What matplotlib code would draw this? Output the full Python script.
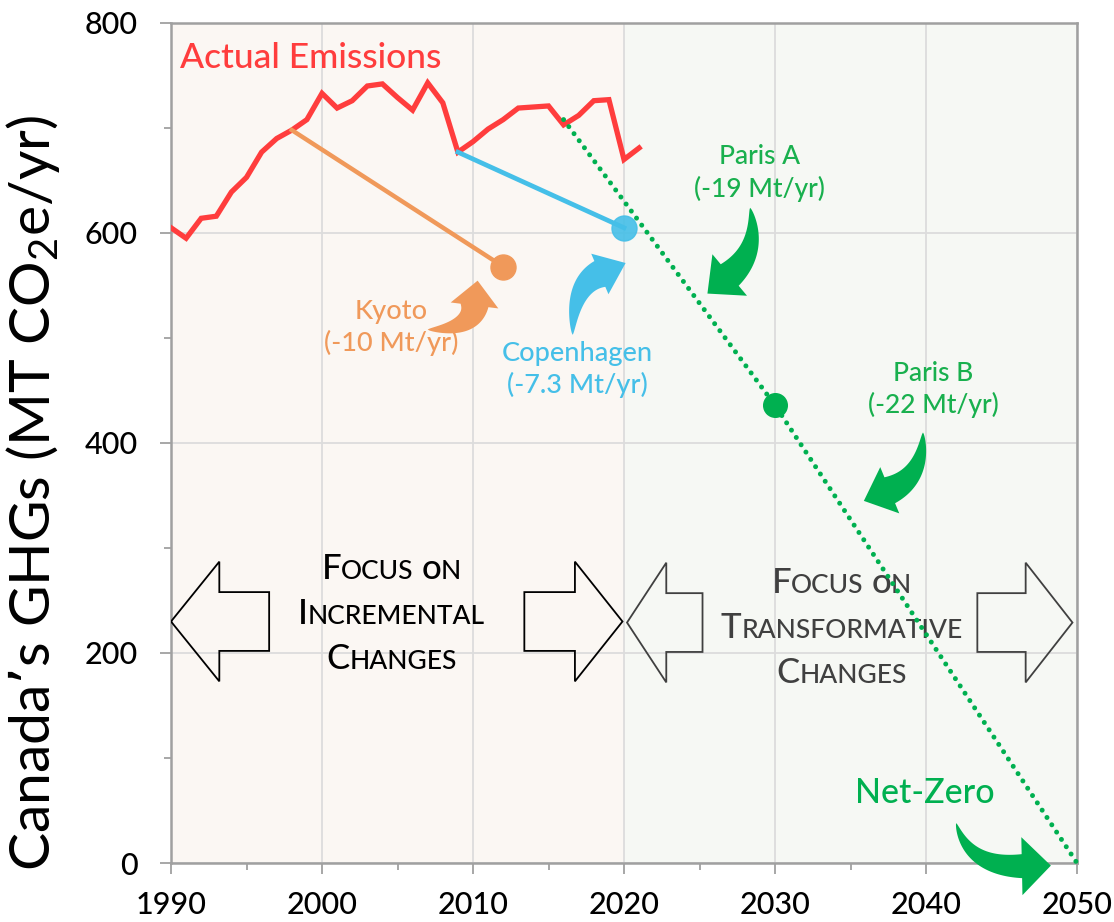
import numpy as np
import matplotlib.pyplot as plt
from matplotlib.patches import Polygon
from matplotlib.transforms import IdentityTransform

plt.rcParams['font.family'] = ['Lato', 'DejaVu Sans']
plt.rcParams['font.weight'] = 'medium'
plt.rcParams['mathtext.default'] = 'regular'

# Canada's actual GHG emissions (Mt CO2e / yr)
years = list(range(1990, 2022))
emissions = [605, 595, 614, 616, 639, 653, 677, 690, 698, 708,
             733, 719, 726, 740, 742, 729, 717, 743, 724, 677,
             687, 699, 708, 719, 720, 721, 703, 712, 726, 727,
             670, 681]

# target pathways
kyoto_x = [1998, 2012]
kyoto_y = [698, 568]
copen_x = [2009, 2020]
copen_y = [677, 605]
paris_x = [2016, 2030, 2050]
paris_y = [708, 436, 0]

RED = '#ff3d3d'
ORANGE = '#f0995a'
BLUE = '#45bfe8'
GREEN = '#00b050'
GREY_TXT = '#404040'


def curved_arrow(ax, start, ctrl, end, tail_w, head_w, head_len, color):
    # filled tapered arrow along a quadratic bezier, sizes in pixels
    S, C, E = (ax.transData.transform(p) for p in (start, ctrl, end))
    t = np.linspace(0, 1, 60)[:, None]
    P = (1 - t)**2 * S + 2 * (1 - t) * t * C + t**2 * E
    D = 2 * (1 - t) * (C - S) + 2 * t * (E - C)
    D = D / np.linalg.norm(D, axis=1)[:, None]
    N = np.column_stack([-D[:, 1], D[:, 0]])
    w = tail_w * t[:, 0]**0.7
    left = P + N * w[:, None]
    right = P - N * w[:, None]
    d, n = D[-1], N[-1]
    head = [E + n * head_w, E + d * head_len, E - n * head_w]
    pts = np.vstack([left, head, right[::-1]])
    pts = ax.transData.inverted().transform(pts)
    ax.add_patch(Polygon(pts, closed=True, facecolor=color, edgecolor='none',
                         zorder=5, clip_on=False))


def block_arrow(ax, x_tip, x_head, x_end, yc, head_h, shaft_h, color):
    pts = [(x_tip, yc), (x_head, yc + head_h), (x_head, yc + shaft_h),
           (x_end, yc + shaft_h), (x_end, yc - shaft_h), (x_head, yc - shaft_h),
           (x_head, yc - head_h)]
    ax.add_patch(Polygon(pts, closed=True, facecolor='none', edgecolor=color,
                         lw=1.3, zorder=3))


def small_caps(ax, x, y, lines, big, small, color, gap_px):
    fig = ax.figure
    r = fig.canvas.get_renderer()
    x0, y0 = ax.transData.transform((x, y))
    space = 0.28 * small * fig.dpi / 72
    for i, line in enumerate(lines):
        pieces = []
        for j, word in enumerate(line.split()):
            pieces.append((word[0], big, j > 0))
            pieces.append((word[1:].upper(), small, False))
        texts, widths = [], []
        for s, fs, sp in pieces:
            t = ax.text(0, 0, s, fontsize=fs, color=color, ha='left',
                        va='baseline', transform=IdentityTransform())
            texts.append((t, sp))
            widths.append(t.get_window_extent(r).width + (space if sp else 0))
        cx = x0 - sum(widths) / 2
        yy = y0 - i * gap_px
        for (t, sp), wd in zip(texts, widths):
            if sp:
                cx += space
                wd -= space
            t.set_position((cx, yy))
            cx += wd


fig = plt.figure(figsize=(11.14, 9.22), dpi=100)
ax = fig.add_axes([171 / 1114, 59 / 922, 906 / 1114, 840 / 922])
ax.set_xlim(1990, 2050)
ax.set_ylim(0, 800)

ax.axvspan(1990, 2020, color='#fbf7f3', zorder=0, lw=0)
ax.axvspan(2020, 2050, color='#f6f8f4', zorder=0, lw=0)

ax.set_xticks(range(1990, 2051, 10))
ax.set_xticks(range(1995, 2050, 10), minor=True)
ax.set_yticks(range(0, 801, 200))
ax.set_yticks(range(100, 800, 200), minor=True)
ax.set_axisbelow(True)
ax.grid(which='major', color='#dcdcdc', lw=1.3)
for s in ax.spines.values():
    s.set_color('#a0a0a0')
    s.set_linewidth(1.8)
ax.tick_params(which='major', length=8, width=1.3, color='#a0a0a0',
               labelsize=22)
ax.tick_params(which='minor', length=5, width=1.3, color='#a0a0a0')
ax.tick_params(axis='x', pad=12)
ax.tick_params(axis='y', pad=16)

ax.set_ylabel('Canada\u2019s GHGs (MT CO$_2$e/yr)', fontsize=41)
ax.yaxis.set_label_coords(-0.12, 0.44)

ax.plot(years, emissions, color=RED, lw=3.8, zorder=4, solid_joinstyle='miter')
ax.plot(kyoto_x, kyoto_y, color=ORANGE, lw=3.2, zorder=4)
ax.plot(kyoto_x[-1], kyoto_y[-1], 'o', color=ORANGE, ms=18, zorder=6)
ax.plot(copen_x, copen_y, color=BLUE, lw=3.4, zorder=4)
ax.plot(copen_x[-1], copen_y[-1], 'o', color=BLUE, ms=18, alpha=0.9, zorder=6)
ax.plot(paris_x, paris_y, color=GREEN, lw=3.6, linestyle=(0, (0.001, 1.75)),
        dash_capstyle='round', zorder=4, clip_on=False)
ax.plot(paris_x[1], paris_y[1], 'o', color=GREEN, ms=17, zorder=6)

# text labels
ax.text(1990.6, 767, 'Actual Emissions', color=RED, fontsize=25.5, va='center')
ax.text(2004.6, 510, 'Kyoto\n(-10 Mt/yr)', color=ORANGE, fontsize=19.5,
        ha='center', va='center', linespacing=1.3)
ax.text(2016.9, 470, 'Copenhagen\n(-7.3 Mt/yr)', color=BLUE, fontsize=19.5,
        ha='center', va='center', linespacing=1.3)
ax.text(2029.0, 657, 'Paris A\n(-19 Mt/yr)', color='#19b04e', fontsize=19,
        ha='center', va='center', linespacing=1.3)
ax.text(2040.5, 451, 'Paris B\n(-22 Mt/yr)', color='#19b04e', fontsize=19,
        ha='center', va='center', linespacing=1.3)
ax.text(2039.9, 67, 'Net-Zero', color=GREEN, fontsize=24.5, ha='center',
        va='center')

# curved pointer arrows
curved_arrow(ax, (2007.0, 508), (2009.9, 508), (2010.1, 531), 14, 24, 25, ORANGE)
curved_arrow(ax, (2016.6, 503), (2016.6, 550), (2018.4, 561), 14, 22, 28, BLUE)
curved_arrow(ax, (2028.35, 624), (2029.0, 584), (2027.0, 560), 14, 27, 29, GREEN)
curved_arrow(ax, (2039.8, 410), (2039.8, 368), (2037.6, 355), 14, 25, 28, GREEN)
curved_arrow(ax, (2042.0, 38), (2042.8, -4), (2046.35, -3), 12, 29, 29, GREEN)

# focus block arrows
block_arrow(ax, 1990.0, 1993.2, 1996.5, 230, 57, 28, 'black')
block_arrow(ax, 2019.9, 2016.75, 2013.4, 230, 57, 28, 'black')
block_arrow(ax, 2020.2, 2022.8, 2025.2, 229, 57, 28, GREY_TXT)
block_arrow(ax, 2049.7, 2046.6, 2043.4, 229, 57, 28, GREY_TXT)

fig.canvas.draw()
small_caps(ax, 2004.6, (863 - 579) / 1.05, ['Focus on', 'Incremental', 'Changes'],
           25, 19, 'black', 45)
small_caps(ax, 2034.4, (863 - 593) / 1.05, ['Focus on', 'Transformative', 'Changes'],
           25, 19, GREY_TXT, 45)

fig.savefig('out.png', dpi=100)
